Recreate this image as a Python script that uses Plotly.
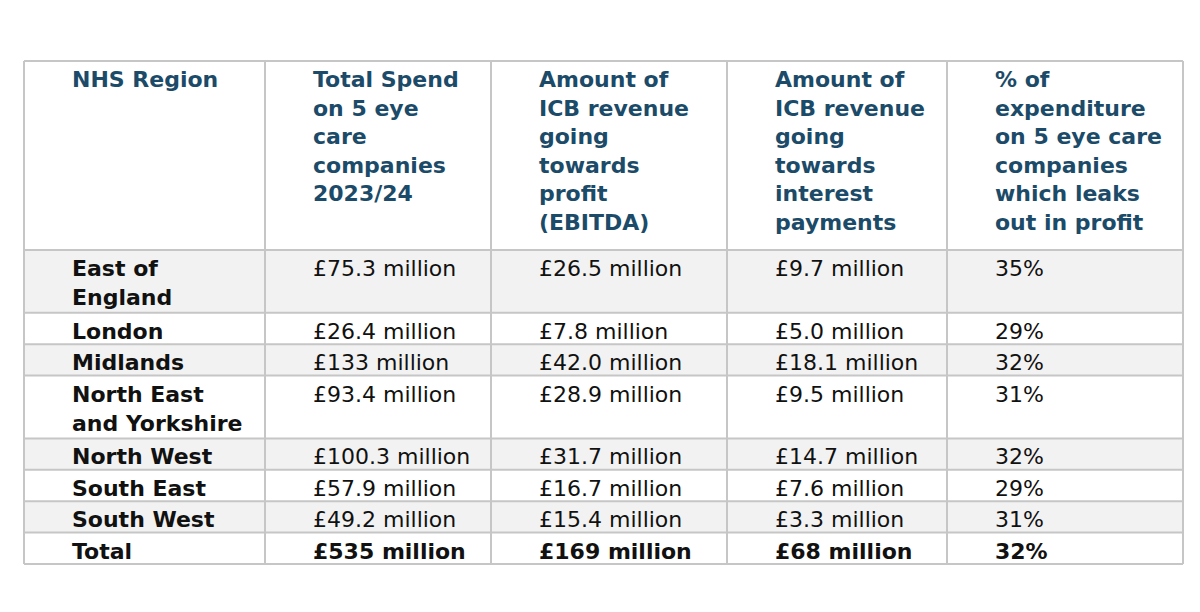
import plotly.graph_objects as go

# table content
headers = [
    "NHS Region",
    "Total Spend\non 5 eye\ncare\ncompanies\n2023/24",
    "Amount of\nICB revenue\ngoing\ntowards\nprofit\n(EBITDA)",
    "Amount of\nICB revenue\ngoing\ntowards\ninterest\npayments",
    "% of\nexpenditure\non 5 eye care\ncompanies\nwhich leaks\nout in profit",
]
regions = ["East of\nEngland", "London", "Midlands", "North East\nand Yorkshire",
           "North West", "South East", "South West", "Total"]
total_spend = ["£75.3 million", "£26.4 million", "£133 million", "£93.4 million",
               "£100.3 million", "£57.9 million", "£49.2 million", "£535 million"]
profit = ["£26.5 million", "£7.8 million", "£42.0 million", "£28.9 million",
          "£31.7 million", "£16.7 million", "£15.4 million", "£169 million"]
interest = ["£9.7 million", "£5.0 million", "£18.1 million", "£9.5 million",
            "£14.7 million", "£7.6 million", "£3.3 million", "£68 million"]
pct_leak = ["35%", "29%", "32%", "31%", "32%", "29%", "31%", "32%"]

# layout (pixels); the page body adds an 8px margin around the figure
W, H = 1200, 612
PAGE_MARGIN = 8
LEFT, TOP = 24 - PAGE_MARGIN, 61 - PAGE_MARGIN
col_widths = [241, 226, 236, 220, 236]
HEADER_H = 189
LINE_H = 31.4
TEXT_DX = 46
TEXT_DY = 4

TEAL = "#1b4b68"
GREY = "#f2f2f2"
LINE = "#c6c6c6"
FONT = "DejaVu Sans"

columns = [regions, total_spend, profit, interest, pct_leak]
n = len(regions)

# column edges
x_edges = [LEFT]
for w in col_widths:
    x_edges.append(x_edges[-1] + w)

# row edges: header, then rows sized by number of text lines
row_lines = [max(col[r].count("\n") + 1 for col in columns) for r in range(n)]
y_edges = [TOP, TOP + HEADER_H]
for k in row_lines:
    y_edges.append(y_edges[-1] + LINE_H * k)

shapes = []
annotations = []

# row fills
for r in range(n):
    fill = GREY if r % 2 == 0 and r < n - 1 else "white"
    shapes.append(dict(type="rect", xref="x", yref="y", layer="below",
                       x0=x_edges[0], x1=x_edges[-1], y0=y_edges[r + 1], y1=y_edges[r + 2],
                       fillcolor=fill, line=dict(width=0)))

# grid lines
for y in y_edges:
    shapes.append(dict(type="line", xref="x", yref="y", x0=x_edges[0], x1=x_edges[-1],
                       y0=y, y1=y, line=dict(color=LINE, width=2)))
for x in x_edges:
    shapes.append(dict(type="line", xref="x", yref="y", x0=x, x1=x,
                       y0=y_edges[0], y1=y_edges[-1], line=dict(color=LINE, width=2)))


def add_text(text, c, top, bold, color):
    body = text.replace("\n", "<br>")
    if bold:
        body = f"<b>{body}</b>"
    annotations.append(dict(
        x=x_edges[c] + TEXT_DX, y=top + TEXT_DY, xref="x", yref="y",
        text=body, showarrow=False, xanchor="left", yanchor="top", align="left",
        font=dict(family=FONT, size=22, color=color),
    ))


for c, h in enumerate(headers):
    add_text(h, c, y_edges[0], True, TEAL)

for c, col in enumerate(columns):
    for r, v in enumerate(col):
        add_text(v, c, y_edges[r + 1], c == 0 or r == n - 1, "#111111")

fig = go.Figure()
fig.update_layout(
    width=W,
    height=H,
    margin=dict(l=0, r=0, t=0, b=0),
    paper_bgcolor="white",
    plot_bgcolor="white",
    xaxis=dict(range=[0, W], visible=False, fixedrange=True),
    yaxis=dict(range=[H, 0], visible=False, fixedrange=True),
    shapes=shapes,
    annotations=annotations,
    showlegend=False,
)

fig.write_html("out.html")
